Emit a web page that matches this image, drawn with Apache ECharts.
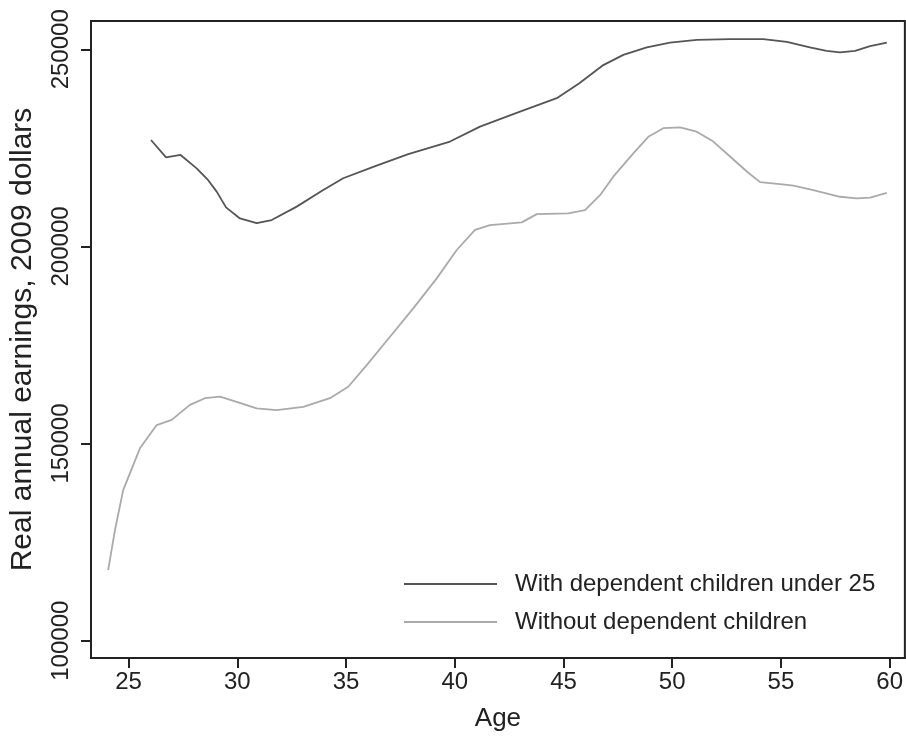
<!DOCTYPE html>
<html>
<head>
<meta charset="utf-8">
<script src="https://cdn.jsdelivr.net/npm/echarts@6/dist/echarts.min.js"></script>
<style>html,body{margin:0;padding:0;background:#fff}#c{width:906px;height:738px}</style>
</head>
<body>
<div id="c"></div>
<script>
// Ages and earnings
const withAges = [26.03,26.72,27.39,28.13,28.66,29.05,29.48,30.12,30.89,31.58,32.73,33.95,34.87,36.25,37.86,39.78,41.16,43.0,44.69,45.73,46.83,47.75,48.83,49.9,51.13,52.66,54.19,55.27,56.33,57.1,57.72,58.41,59.1,59.87];
const withEarnings = [227000,222600,223200,219800,216800,213900,209900,207100,205900,206700,210100,214300,217300,220200,223400,226600,230400,234200,237600,241400,246000,248600,250500,251700,252400,252600,252600,251900,250500,249600,249200,249600,250800,251700];
const withoutAges = [24.06,24.37,24.75,25.52,26.29,26.98,27.82,28.51,29.2,29.97,30.89,31.81,33.03,34.26,35.1,35.95,37.02,38.09,39.17,40.09,40.93,41.62,43.08,43.77,45.22,45.99,46.68,47.29,48.21,48.9,49.59,50.36,51.13,51.89,52.66,53.43,54.04,54.96,55.57,56.49,57.72,58.49,59.1,59.87];
const withoutEarnings = [117900,128000,138200,148800,154700,156000,159800,161500,161900,160600,158900,158500,159300,161500,164400,169900,177100,184300,191900,199100,204200,205400,206100,208200,208400,209200,213000,217700,223600,227800,230000,230200,229100,226600,222800,219000,216300,215800,215400,214300,212600,212200,212400,213600];
const xTicks = [25,30,35,40,45,50,55,60];
const yTicks = [100000,150000,200000,250000];
const seriesNames = ['With dependent children under 25','Without dependent children'];

const pair = (xs, ys) => xs.map((x, i) => [x, ys[i]]);
const chart = echarts.init(document.getElementById('c'));
const FONT = '"Liberation Sans", Arial, sans-serif';
chart.setOption({
  animation: false,
  backgroundColor: '#fff',
  grid: { left: 91, top: 21, right: 1, bottom: 80, show: true, borderColor: '#222', borderWidth: 2, containLabel: false },
  legend: {
    orient: 'vertical', left: 399, top: 567, itemWidth: 93, itemHeight: 2, itemGap: 14,
    icon: 'rect',
    textStyle: { fontFamily: FONT, fontSize: 24, color: '#222', padding: [0,0,0,13] },
    data: seriesNames
  },
  xAxis: {
    type: 'value', min: 23.27, max: 60.7,
    name: 'Age', nameLocation: 'middle', nameGap: 48,
    nameTextStyle: { fontFamily: FONT, fontSize: 26, color: '#222' },
    axisLine: { show: true, lineStyle: { color: '#222', width: 2 } },
    axisTick: { show: true, inside: false, length: 10, customValues: xTicks, lineStyle: { color: '#222', width: 2 } },
    axisLabel: { customValues: xTicks, fontFamily: FONT, fontSize: 24, color: '#222', margin: 12 },
    splitLine: { show: false }
  },
  yAxis: {
    type: 'value', min: 95610, max: 257180,
    name: 'Real annual earnings, 2009 dollars', nameLocation: 'middle', nameRotate: 90, nameGap: 53,
    nameTextStyle: { fontFamily: FONT, fontSize: 30, color: '#222' },
    axisLine: { show: true, lineStyle: { color: '#222', width: 2 } },
    axisTick: { show: true, inside: false, length: 10, customValues: yTicks, lineStyle: { color: '#222', width: 2 } },
    axisLabel: { customValues: yTicks, rotate: 90, fontFamily: FONT, fontSize: 24, color: '#222', margin: 18,
      formatter: v => String(v) },
    splitLine: { show: false }
  },
  series: [
    { name: seriesNames[0], type: 'line', data: pair(withAges, withEarnings), showSymbol: false, symbol: 'none', smooth: false,
      lineStyle: { color: '#555', width: 1.8 }, itemStyle: { color: '#555' } },
    { name: seriesNames[1], type: 'line', data: pair(withoutAges, withoutEarnings), showSymbol: false, symbol: 'none', smooth: false,
      lineStyle: { color: '#aaa', width: 1.8 }, itemStyle: { color: '#aaa' } }
  ]
});
</script>
</body>
</html>
